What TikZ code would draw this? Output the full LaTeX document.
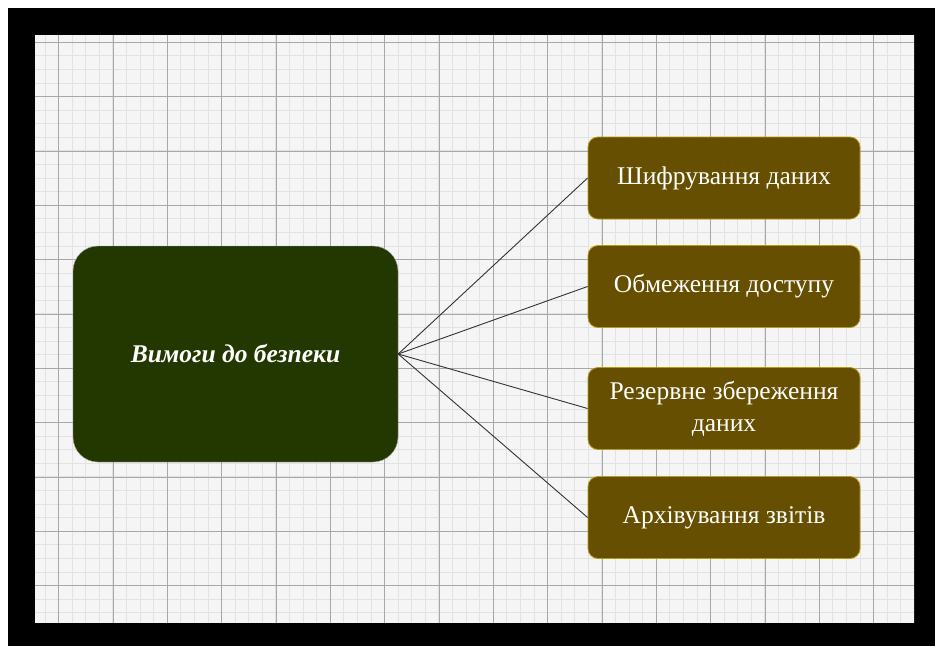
\documentclass[tikz,border=0pt]{standalone}
\usepackage{fontspec}
\setmainfont{Liberation Serif}
\definecolor{paper}{HTML}{F5F5F5}
\definecolor{gridminor}{HTML}{E2E2E2}
\definecolor{gridmajor}{HTML}{A8A8A8}
\definecolor{rootfill}{HTML}{223800}
\definecolor{leaffill}{HTML}{664F00}
\definecolor{leafedge}{HTML}{B89A10}
\tikzset{
  minorline/.style={gridminor, line width=1.1pt},
  majorline/.style={gridmajor, line width=1pt},
  rootbox/.style={draw=gray!70, fill=rootfill, rounded corners=25pt,
    minimum width=325pt, minimum height=216pt, inner sep=0pt,
    text=white, font=\fontsize{25.5}{30}\selectfont\bfseries\itshape},
  leafbox/.style={draw=leafedge, line width=0.8pt, fill=leaffill, rounded corners=10pt,
    minimum width=272pt, minimum height=82pt, inner sep=0pt, align=center,
    text=white, font=\fontsize{25.5}{32}\selectfont},
  link/.style={draw=black!80, line width=0.9pt}
}
\begin{document}
\begin{tikzpicture}[x=1pt,y=-1pt]
  \useasboundingbox (0,0) rectangle (935,646);
  \fill[white] (0,0) rectangle (935,646);
  \fill[black] (8,8) rectangle (935,646);
  \fill[paper] (35,35) rectangle (914,623);
  % grid paper
  \begin{scope}
    \clip (35,35) rectangle (914,623);
    \foreach \i in {0,...,65} \draw[minorline] ({45.08+\i*13.583},35) -- ++(0,588);
    \foreach \j in {0,...,43} \draw[minorline] (35,{42.33+\j*13.583}) -- ++(879,0);
    \foreach \i in {0,...,16} \draw[majorline] ({58.67+\i*54.333},35) -- ++(0,588);
    \foreach \j in {0,...,11} \draw[majorline] (35,{42.33+\j*54.333}) -- ++(879,0);
  \end{scope}
  % nodes
  \node[rootbox] (root) at (235.5,354) {Вимоги до безпеки};
  \node[leafbox] (enc) at (724,178) {Шифрування даних};
  \node[leafbox] (acc) at (724,286.5) {Обмеження доступу};
  \node[leafbox] (bak) at (724,408.5) {Резервне збереження\\даних};
  \node[leafbox] (arc) at (724,517.5) {Архівування звітів};
  % connectors
  \foreach \n in {enc,acc,bak,arc} \draw[link] (root.east) -- (\n.west);
\end{tikzpicture}
\end{document}
